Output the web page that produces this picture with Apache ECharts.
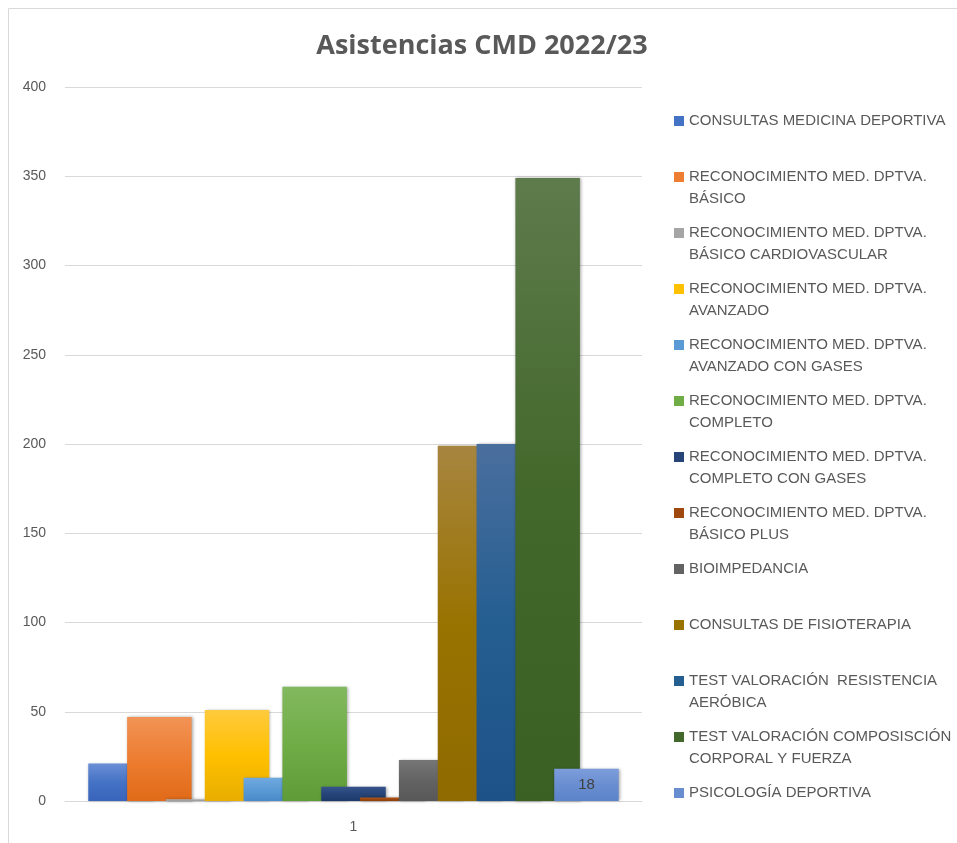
<!DOCTYPE html>
<html>
<head>
<meta charset="utf-8">
<script src="https://cdn.jsdelivr.net/npm/echarts@6/dist/echarts.min.js"></script>
<style>
  html, body { margin: 0; padding: 0; background: #fff; }
  #chart { width: 957px; height: 843px; }
</style>
</head>
<body>
<div id="chart"></div>
<script>
// chart data
const categories = ['1'];
const seriesNames = [
    'CONSULTAS MEDICINA DEPORTIVA',
    'RECONOCIMIENTO MED. DPTVA. BÁSICO',
    'RECONOCIMIENTO MED. DPTVA. BÁSICO CARDIOVASCULAR',
    'RECONOCIMIENTO MED. DPTVA. AVANZADO',
    'RECONOCIMIENTO MED. DPTVA. AVANZADO CON GASES',
    'RECONOCIMIENTO MED. DPTVA. COMPLETO',
    'RECONOCIMIENTO MED. DPTVA. COMPLETO CON GASES',
    'RECONOCIMIENTO MED. DPTVA. BÁSICO PLUS',
    'BIOIMPEDANCIA',
    'CONSULTAS DE FISIOTERAPIA',
    'TEST VALORACIÓN  RESISTENCIA AERÓBICA',
    'TEST VALORACIÓN COMPOSISCIÓN CORPORAL Y FUERZA',
    'PSICOLOGÍA DEPORTIVA'
];
// legend text as wrapped in the picture
const legendLines = [
    ['CONSULTAS MEDICINA DEPORTIVA'],
    ['RECONOCIMIENTO MED. DPTVA.', 'BÁSICO'],
    ['RECONOCIMIENTO MED. DPTVA.', 'BÁSICO CARDIOVASCULAR'],
    ['RECONOCIMIENTO MED. DPTVA.', 'AVANZADO'],
    ['RECONOCIMIENTO MED. DPTVA.', 'AVANZADO CON GASES'],
    ['RECONOCIMIENTO MED. DPTVA.', 'COMPLETO'],
    ['RECONOCIMIENTO MED. DPTVA.', 'COMPLETO CON GASES'],
    ['RECONOCIMIENTO MED. DPTVA.', 'BÁSICO PLUS'],
    ['BIOIMPEDANCIA'],
    ['CONSULTAS DE FISIOTERAPIA'],
    ['TEST VALORACIÓN  RESISTENCIA', 'AERÓBICA'],
    ['TEST VALORACIÓN COMPOSISCIÓN', 'CORPORAL Y FUERZA'],
    ['PSICOLOGÍA DEPORTIVA']
];
const values = [21, 47, 1, 51, 13, 64, 8, 2, 23, 199, 200, 349, 18];
const yTicks = [0, 50, 100, 150, 200, 250, 300, 350, 400];

// office palette: [top, base, bottom]
const colors = [
    ['#6b8fd6', '#4472c4', '#3864bb'],
    ['#f29356', '#ed7d31', '#e06a18'],
    ['#b5b5b5', '#a5a5a5', '#999999'],
    ['#ffca3d', '#ffc000', '#e8ad00'],
    ['#70a9e0', '#5b9bd5', '#4a8ac8'],
    ['#82b85f', '#70ad47', '#5f9c38'],
    ['#37558c', '#264478', '#1d3a6b'],
    ['#b05a20', '#9e480e', '#8f3e08'],
    ['#767676', '#636363', '#585858'],
    ['#a7853f', '#997300', '#8f6a00'],
    ['#4a6f9e', '#255e91', '#1d5288'],
    ['#5e7b4c', '#43682b', '#3a6024'],
    ['#7d9ddb', '#698ed0', '#5c82c8']
];

const FONT = '"Liberation Sans", Arial, sans-serif';
const TEXT = '#595959';

const labelMap = {};
seriesNames.forEach((n, i) => {
    const l = legendLines[i];
    // blank first line keeps the icon next to the first text line
    labelMap[n] = ' \n' + l[0] + '\n' + (l[1] || ' ');
});

const series = seriesNames.map((name, i) => ({
    name: name,
    type: 'bar',
    data: [values[i]],
    barWidth: 64.5,
    barGap: '-39.8%',
    itemStyle: {
        color: new echarts.graphic.LinearGradient(0, 0, 0, 1, [
            { offset: 0, color: colors[i][0] },
            { offset: 0.5, color: colors[i][1] },
            { offset: 1, color: colors[i][2] }
        ]),
        shadowColor: 'rgba(0,0,0,0.35)',
        shadowBlur: 3,
        shadowOffsetX: 1,
        shadowOffsetY: 0
    },
    label: i === seriesNames.length - 1 ? {
        show: true,
        position: 'inside',
        color: '#404040',
        fontSize: 15,
        fontFamily: FONT
    } : { show: false }
}));

const chart = echarts.init(document.getElementById('chart'));
chart.setOption({
    animation: false,
    backgroundColor: '#fff',
    title: {
        text: 'Asistencias CMD 2022/23',
        left: 477,
        textAlign: 'center',
        top: 28,
        textStyle: {
            color: TEXT,
            fontSize: 27,
            fontWeight: 'bold',
            fontFamily: '"Open Sans", ' + FONT
        }
    },
    legend: {
        orient: 'vertical',
        left: 674,
        top: 88,
        padding: 0,
        itemWidth: 10,
        itemHeight: 10,
        itemGap: -10,
        icon: 'rect',
        selectedMode: false,
        data: seriesNames.map((n, i) => ({ name: n, itemStyle: { color: colors[i][1] } })),
        formatter: (name) => labelMap[name],
        textStyle: {
            color: TEXT,
            fontSize: 15,
            lineHeight: 22,
            fontFamily: FONT
        }
    },
    grid: {
        left: 65,
        right: 315,
        top: 87,
        bottom: 42,
        containLabel: false
    },
    xAxis: {
        type: 'category',
        data: categories,
        axisTick: { show: false },
        axisLine: { lineStyle: { color: '#d9d9d9', width: 1 } },
        axisLabel: { color: TEXT, fontSize: 14, fontFamily: FONT, margin: 19 }
    },
    yAxis: {
        type: 'value',
        min: yTicks[0],
        max: yTicks[yTicks.length - 1],
        interval: yTicks[1] - yTicks[0],
        axisLine: { show: false },
        axisTick: { show: false },
        axisLabel: { color: TEXT, fontSize: 14, fontFamily: FONT, margin: 19 },
        splitLine: { lineStyle: { color: '#d9d9d9', width: 1 } }
    },
    graphic: [
        { type: 'line', shape: { x1: 8.5, y1: 8.5, x2: 957, y2: 8.5 }, style: { stroke: '#d9d9d9', lineWidth: 1 } },
        { type: 'line', shape: { x1: 8.5, y1: 8.5, x2: 8.5, y2: 843 }, style: { stroke: '#d9d9d9', lineWidth: 1 } }
    ],
    series: series
});
</script>
</body>
</html>
